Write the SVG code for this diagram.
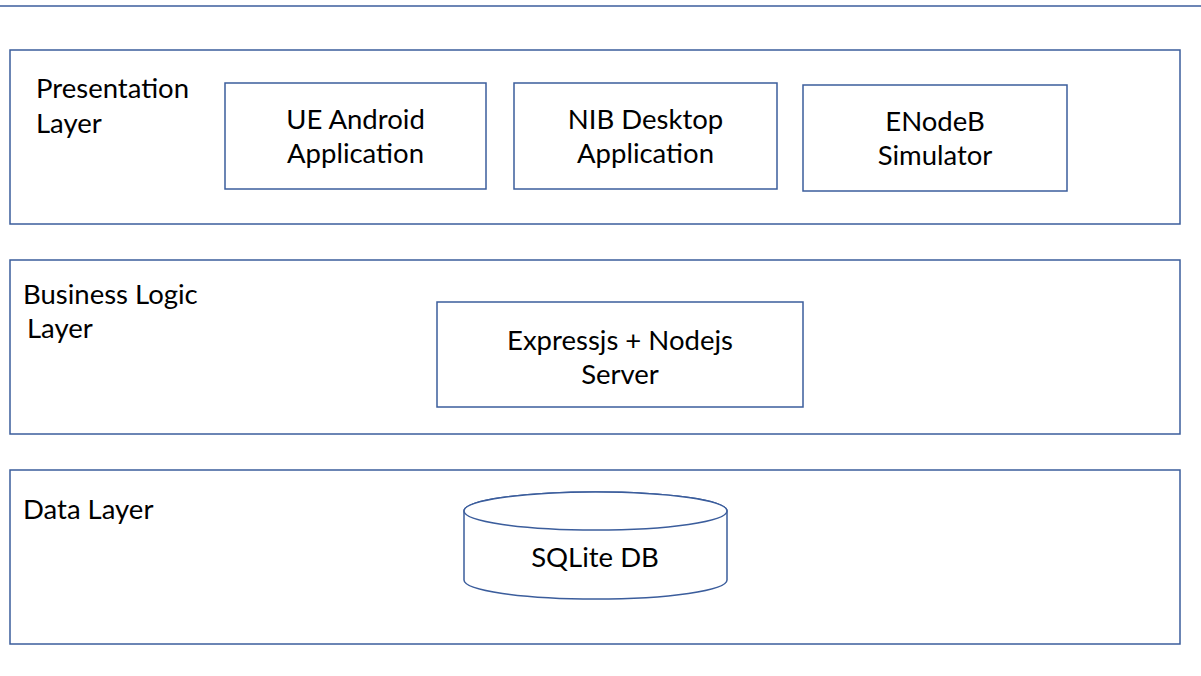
<svg xmlns="http://www.w3.org/2000/svg" width="1201" height="676" viewBox="0 0 1201 676">
<style>
  .box { fill: #ffffff; stroke: #3b5d9c; stroke-width: 1.5; }
  .line { stroke: #3b5d9c; stroke-width: 1.5; fill: none; }
  text { font-family: Lato, "Liberation Sans", sans-serif; font-size: 27.5px; fill: #000000; }
  .c { text-anchor: middle; }
</style>
<rect x="0" y="0" width="1201" height="676" fill="#ffffff"/>
<g id="connectors">
  <line class="line" x1="0" y1="6" x2="1201" y2="6"/>
</g>
<g id="presentation-layer">
  <rect class="box" x="10" y="50" width="1170" height="174"/>
  <text x="36" y="98">Presentation</text>
  <text x="36" y="133">Layer</text>
</g>
<g id="ue-android">
  <rect class="box" x="225" y="83" width="261" height="106"/>
  <text class="c" x="355.5" y="129">UE Android</text>
  <text class="c" x="355.5" y="163">Application</text>
</g>
<g id="nib-desktop">
  <rect class="box" x="514" y="83" width="263" height="106"/>
  <text class="c" x="645.5" y="129">NIB Desktop</text>
  <text class="c" x="645.5" y="163">Application</text>
</g>
<g id="enodeb">
  <rect class="box" x="803" y="85" width="264" height="106"/>
  <text class="c" x="935" y="131">ENodeB</text>
  <text class="c" x="935" y="165">Simulator</text>
</g>
<g id="business-layer">
  <rect class="box" x="10" y="260" width="1170" height="174"/>
  <text x="23" y="304">Business Logic</text>
  <text x="27" y="338">Layer</text>
</g>
<g id="server">
  <rect class="box" x="437" y="302" width="366" height="105"/>
  <text class="c" x="620" y="350">Expressjs + Nodejs</text>
  <text class="c" x="620" y="384">Server</text>
</g>
<g id="data-layer">
  <rect class="box" x="10" y="470" width="1170" height="174"/>
  <text x="23" y="519">Data Layer</text>
</g>
<g id="sqlite">
  <path class="box" d="M464,511 L464,580 A131.5,19 0 0 0 727,580 L727,511 A131.5,19 0 0 0 464,511 Z"/>
  <ellipse class="box" cx="595.5" cy="511" rx="131.5" ry="19"/>
  <text class="c" x="595" y="567">SQLite DB</text>
</g>
</svg>
